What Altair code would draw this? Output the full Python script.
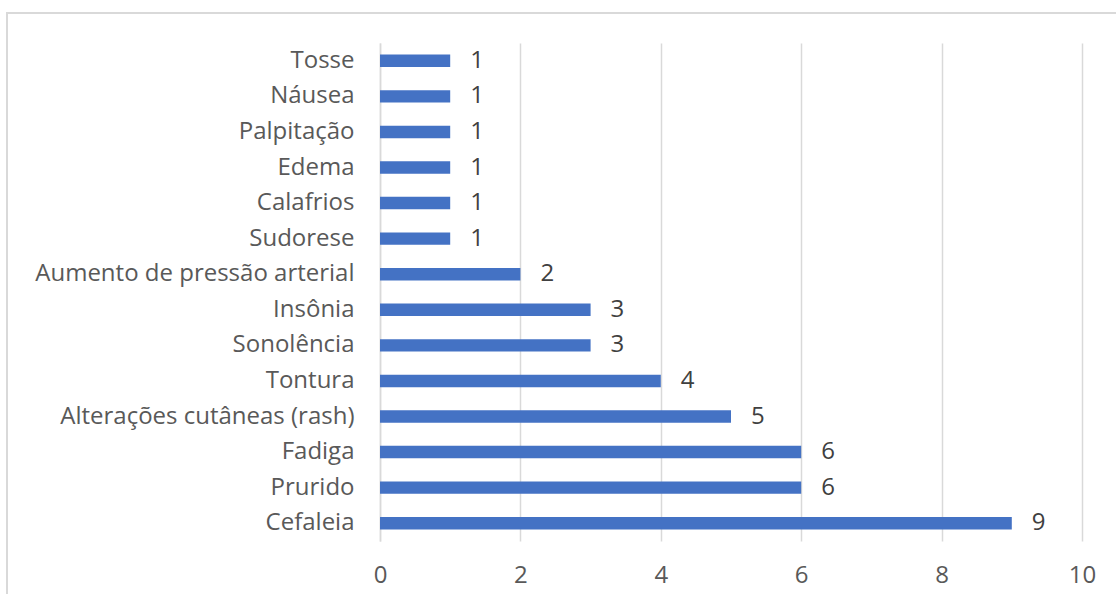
import altair as alt
import pandas as pd

# Adverse events reported, with number of occurrences
sintomas = [
    "Tosse", "Náusea", "Palpitação", "Edema", "Calafrios", "Sudorese",
    "Aumento de pressão arterial", "Insônia", "Sonolência", "Tontura",
    "Alterações cutâneas (rash)", "Fadiga", "Prurido", "Cefaleia",
]
casos = [1, 1, 1, 1, 1, 1, 2, 3, 3, 4, 5, 6, 6, 9]
x_ticks = [0, 2, 4, 6, 8, 10]

df = pd.DataFrame({"sintoma": sintomas, "casos": casos})

FONT = "Open Sans"
FS = 24
GRAY = "#595959"
GRID = "#D9D9D9"

y_enc = alt.Y(
    "sintoma:N",
    sort=sintomas,
    title=None,
    scale=alt.Scale(paddingInner=0.65, paddingOuter=0.325),
    axis=alt.Axis(
        domain=True, domainColor=GRID, domainWidth=1.5,
        ticks=False, labelPadding=26, labelFontSize=FS, labelLimit=400,
        labelColor=GRAY, labelFont=FONT,
    ),
)
x_enc = alt.X(
    "casos:Q",
    title=None,
    scale=alt.Scale(domain=[0, 10], nice=False),
    axis=alt.Axis(
        values=x_ticks, format="d", domain=False, ticks=False, grid=True,
        gridColor=GRID, gridWidth=1.5, labelPadding=22, labelFlush=False,
        labelFontSize=FS, labelColor=GRAY, labelFont=FONT,
    ),
)

bars = alt.Chart(df).mark_bar(color="#4472C4").encode(x=x_enc, y=y_enc)

labels = alt.Chart(df).mark_text(
    align="left", baseline="middle", dx=20, fontSize=FS, font=FONT, color="#404040"
).encode(x="casos:Q", y=alt.Y("sintoma:N", sort=sintomas), text="casos:Q")

# outer chart frame
frame = alt.Chart(df).mark_rect(
    fill=None, stroke=GRID, strokeWidth=2
).encode(
    x=alt.value(-373), x2=alt.value(760), y=alt.value(-30), y2=alt.value(600)
)

chart = (
    alt.layer(frame, bars, labels)
    .properties(
        width=702, height=498,
        autosize=alt.AutoSizeParams(type="none"),
        padding={"left": 380, "top": 43, "right": 34, "bottom": 53},
        background="white",
    )
    .configure_view(stroke=None)
)

chart.save("out.html", embed_options={"renderer": "svg", "actions": False})
